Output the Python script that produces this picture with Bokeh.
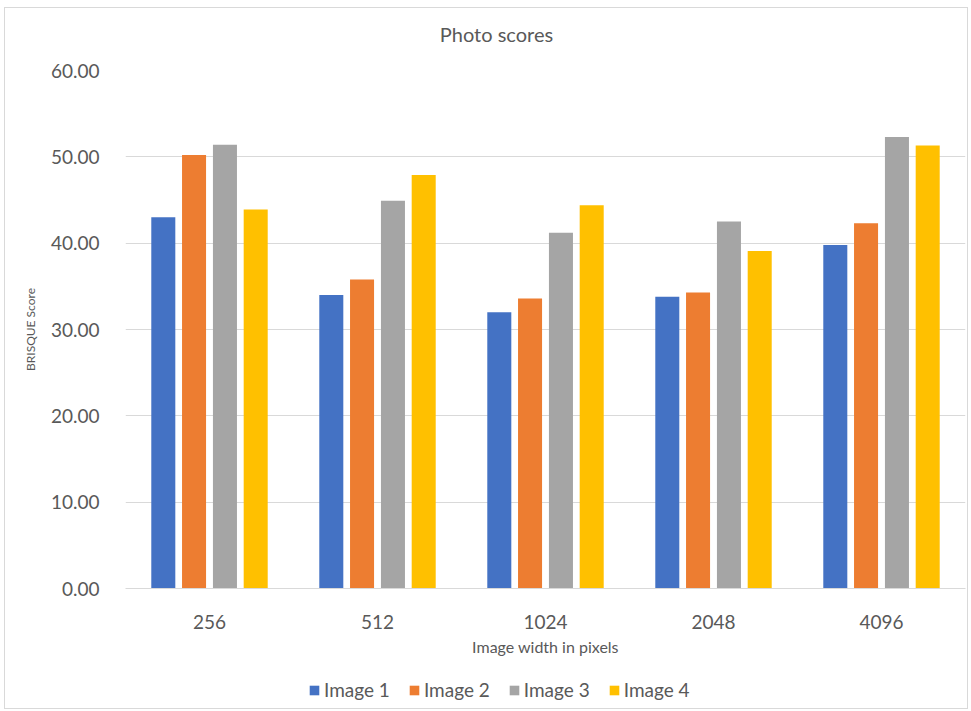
from bokeh.plotting import figure
from bokeh.layouts import column
from bokeh.models import (FactorRange, Range1d, Legend, LegendItem, NumeralTickFormatter,
                          FixedTicker, ColumnDataSource, Label)
from bokeh.transform import dodge
from bokeh.embed import file_html
from bokeh.resources import INLINE

categories = ["256", "512", "1024", "2048", "4096"]
series_names = ["Image 1", "Image 2", "Image 3", "Image 4"]
image1 = [43.0, 34.0, 32.0, 33.8, 39.8]
image2 = [50.2, 35.8, 33.6, 34.3, 42.3]
image3 = [51.4, 44.9, 41.2, 42.5, 52.3]
image4 = [43.9, 47.9, 44.4, 39.1, 51.3]
y_ticks = [0, 10, 20, 30, 40, 50, 60]
colors = ["#4472C4", "#ED7D31", "#A5A5A5", "#FFC000"]
title_text = "Photo scores"

FONT = "Lato"
TXT = "#595959"

src = ColumnDataSource(dict(cat=categories, s0=image1, s1=image2, s2=image3, s3=image4))

# title strip
t = figure(width=962, height=50, output_backend="svg", toolbar_location=None,
           x_range=Range1d(0, 1), y_range=Range1d(0, 1), x_axis_type=None, y_axis_type=None,
           min_border=0)
t.grid.visible = False
t.outline_line_color = None
t.add_layout(Label(x=0.5, y=0.5, x_offset=-49, text=title_text, text_align="center",
                   text_baseline="middle", text_font=FONT, text_font_size="20px",
                   text_color=TXT))

p = figure(x_range=FactorRange(*categories, range_padding=0), y_range=(0, 60),
           width=962, height=610, output_backend="svg", toolbar_location=None,
           min_border_left=120, min_border_right=2, min_border_top=12, min_border_bottom=80)

offsets = [-0.275, -0.092, 0.092, 0.275]
for i, (name, col) in enumerate(zip(series_names, colors)):
    p.vbar(x=dodge("cat", offsets[i], range=p.x_range), top="s%d" % i, width=0.143,
           source=src, fill_color=col, line_color=None)

p.yaxis.ticker = FixedTicker(ticks=y_ticks)
p.yaxis.formatter = NumeralTickFormatter(format="0.00")
p.yaxis.axis_line_color = None
p.yaxis.major_tick_line_color = None
p.yaxis.minor_tick_line_color = None
p.yaxis.major_label_text_font = FONT
p.yaxis.major_label_text_font_size = "19px"
p.yaxis.major_label_text_color = TXT
p.yaxis.major_label_standoff = 20
p.yaxis.axis_label = "BRISQUE Score"
p.yaxis.axis_label_text_font = FONT
p.yaxis.axis_label_text_font_size = "12px"
p.yaxis.axis_label_text_font_style = "normal"
p.yaxis.axis_label_text_color = TXT
p.yaxis.axis_label_standoff = 10

p.xaxis.axis_line_color = "#D9D9D9"
p.xaxis.major_tick_line_color = None
p.xaxis.minor_tick_line_color = None
p.xaxis.major_label_text_font = FONT
p.xaxis.major_label_text_font_size = "19px"
p.xaxis.major_label_text_color = TXT
p.xaxis.major_label_standoff = 20
p.xaxis.axis_label = "Image width in pixels"
p.xaxis.axis_label_text_font = FONT
p.xaxis.axis_label_text_font_size = "16px"
p.xaxis.axis_label_text_font_style = "normal"
p.xaxis.axis_label_text_color = TXT
p.xaxis.axis_label_standoff = 5

p.xgrid.grid_line_color = None
p.ygrid.grid_line_color = "#D9D9D9"
p.ygrid.grid_line_width = 1
p.outline_line_color = None

# legend strip below the chart (dummy swatch glyphs sit outside the visible range)
p2 = figure(width=962, height=40, output_backend="svg", toolbar_location=None,
            x_range=Range1d(0, 1), y_range=Range1d(0, 1), x_axis_type=None, y_axis_type=None,
            min_border=0)
p2.grid.visible = False
p2.outline_line_color = None
leg_renderers = []
for name, col in zip(series_names, colors):
    leg_renderers.append(p2.vbar(x=[-5], top=[-5], bottom=[-6], width=0.1,
                                 fill_color=col, line_color=None))

legend = Legend(items=[LegendItem(label=n, renderers=[r]) for n, r in zip(series_names, leg_renderers)],
                orientation="horizontal", location=(183, 7))
legend.label_text_font = FONT
legend.label_text_font_size = "19px"
legend.label_text_color = TXT
legend.glyph_width = 12
legend.glyph_height = 12
legend.spacing = 18
legend.label_standoff = 4
legend.border_line_color = None
legend.background_fill_alpha = 0
legend.padding = 0
legend.margin = 0
p2.add_layout(legend, "center")

layout = column(t, p, p2, spacing=0)
layout.margin = (7, 0, 0, 4)
layout.styles = {"border": "1px solid #d9d9d9"}

open("out.html", "w").write(file_html(layout, INLINE))
